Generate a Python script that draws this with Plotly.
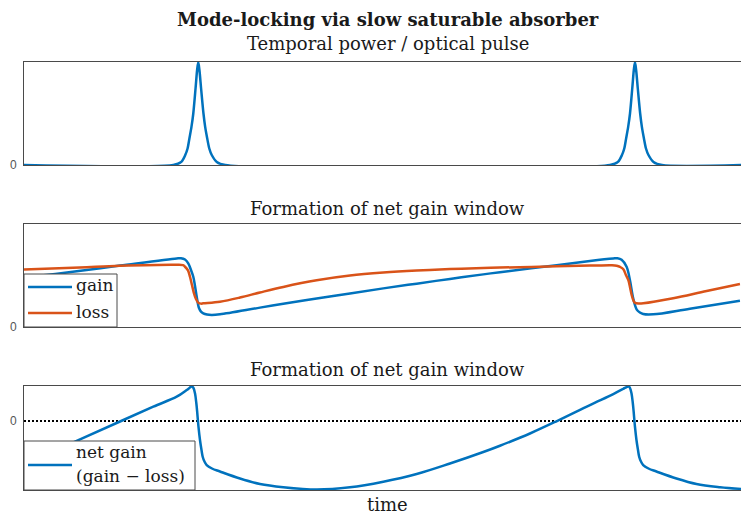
import plotly.graph_objects as go

# Time axis in units of the cavity round-trip time T_R
T_END = 1.642

# Temporal power of the circulating pulse (normalised to peak)
t_pulse = [0.0, 0.3419, 0.3602, 0.3693, 0.3746, 0.3789, 0.3835, 0.3877, 0.3929, 0.3964,
           0.3991, 0.4018, 0.4055, 0.4110, 0.4149, 0.4195, 0.4243, 0.4300, 0.4415, 0.4609,
           1.3420, 1.3603, 1.3694, 1.3747, 1.3790, 1.3836, 1.3878, 1.3930, 1.3965,
           1.3992, 1.4019, 1.4056, 1.4111, 1.4150, 1.4196, 1.4244, 1.4301, 1.4416, 1.4610,
           1.642]
power = [0.0, 0.0, 0.03, 0.097, 0.16, 0.26, 0.37, 0.50, 0.745, 0.92,
         1.0, 0.92, 0.745, 0.50, 0.37, 0.26, 0.16, 0.097, 0.03, 0.0,
         0.0, 0.03, 0.097, 0.16, 0.26, 0.37, 0.50, 0.745, 0.92,
         1.0, 0.92, 0.745, 0.50, 0.37, 0.26, 0.16, 0.097, 0.03, 0.0,
         0.0]

# Saturated gain
t_gain = [0.0, 0.0893, 0.2198, 0.3497, 0.3595, 0.3687, 0.3762, 0.3824, 0.3877,
          0.3916, 0.3955, 0.4007, 0.4053, 0.4106, 0.4191, 0.4298, 0.4488, 0.5404,
          0.5938, 0.6702, 0.7465, 0.8228, 0.8992, 0.9755, 1.0518, 1.0900, 1.2198,
          1.2961, 1.3495, 1.3590, 1.3686, 1.3800, 1.3876, 1.3951, 1.4029, 1.4105,
          1.4181, 1.4410, 1.5250, 1.6396]
gain = [0.482, 0.524, 0.596, 0.665, 0.667, 0.655, 0.618, 0.553, 0.488,
        0.398, 0.294, 0.184, 0.150, 0.133, 0.121, 0.117, 0.123, 0.188,
        0.225, 0.277, 0.326, 0.375, 0.421, 0.467, 0.511, 0.532, 0.600,
        0.641, 0.665, 0.667, 0.652, 0.585, 0.456, 0.279, 0.172, 0.141,
        0.126, 0.123, 0.178, 0.255]

# Saturable absorber loss
t_loss = [0.0, 0.1280, 0.2198, 0.3497, 0.3641, 0.3687, 0.3755, 0.3801, 0.3847,
          0.3893, 0.3938, 0.3991, 0.4053, 0.4106, 0.4488, 0.4946, 0.5404, 0.5938,
          0.6702, 0.7465, 0.8228, 0.8992, 0.9755, 1.0518, 1.0900, 1.2198, 1.2961,
          1.3466, 1.3573, 1.3650, 1.3726, 1.3784, 1.3840, 1.3877, 1.3916, 1.3957,
          1.3990, 1.4080, 1.4181, 1.4868, 1.5633, 1.6396]
loss = [0.558, 0.578, 0.594, 0.604, 0.600, 0.585, 0.549, 0.488, 0.408,
        0.327, 0.272, 0.236, 0.227, 0.230, 0.246, 0.286, 0.335, 0.389,
        0.453, 0.499, 0.528, 0.548, 0.562, 0.573, 0.577, 0.589, 0.596,
        0.600, 0.595, 0.583, 0.560, 0.505, 0.456, 0.388, 0.311, 0.257,
        0.236, 0.228, 0.230, 0.279, 0.350, 0.417]

# Net gain (gain - loss)
t_net = [0.0, 0.1168, 0.2198, 0.2961, 0.3497, 0.3726, 0.3801, 0.3840, 0.3881,
         0.3916, 0.3946, 0.3969, 0.3996, 0.4030, 0.4065, 0.4092, 0.4133, 0.4184,
         0.4305, 0.4488, 0.4946, 0.5404, 0.5938, 0.6702, 0.7465, 0.8228, 0.8992,
         0.9755, 1.0518, 1.0900, 1.1587, 1.2206, 1.2961, 1.3495, 1.3717, 1.3809,
         1.3843, 1.3878, 1.3912, 1.3942, 1.3965, 1.3992, 1.4026, 1.4061, 1.4088,
         1.4129, 1.4180, 1.4301, 1.4484, 1.4942, 1.5400, 1.5940, 1.6420]
net = [-1.229, -0.591, -0.014, 0.409, 0.694, 0.886, 0.957, 0.991, 0.943,
       0.791, 0.514, 0.220, -0.171, -0.543, -0.829, -1.020, -1.157, -1.257,
       -1.357, -1.443, -1.643, -1.800, -1.891, -1.957, -1.894, -1.734, -1.514,
       -1.214, -0.886, -0.706, -0.357, 0.0, 0.457, 0.771, 0.914, 0.977,
       0.991, 0.943, 0.791, 0.514, 0.220, -0.171, -0.543, -0.829, -1.020,
       -1.157, -1.257, -1.357, -1.443, -1.643, -1.800, -1.891, -1.940]

BLUE = "#0072BD"
ORANGE = "#D95319"
AXIS = "#4a4a4a"
TEXT = "#1a1a1a"
SERIF = "DejaVu Serif"
W, H = 741, 515


def px_x(p):
    return p / W


def px_y(p):
    return (H - p) / H


fig = go.Figure()
line_kw = dict(width=2.5, shape="spline", smoothing=1.0)

fig.add_trace(go.Scatter(x=t_pulse, y=power, mode="lines", name="power",
                         line=dict(color=BLUE, width=2.5, shape="spline", smoothing=0.8),
                         xaxis="x", yaxis="y"))
fig.add_trace(go.Scatter(x=t_gain, y=gain, mode="lines", name="gain",
                         line=dict(color=BLUE, **line_kw), xaxis="x2", yaxis="y2"))
fig.add_trace(go.Scatter(x=t_loss, y=loss, mode="lines", name="loss",
                         line=dict(color=ORANGE, **line_kw), xaxis="x2", yaxis="y2"))
fig.add_trace(go.Scatter(x=[0, T_END], y=[0, 0], mode="lines", name="zero",
                         line=dict(color="black", width=2, dash="2px,2px"),
                         xaxis="x3", yaxis="y3"))
fig.add_trace(go.Scatter(x=t_net, y=net, mode="lines", name="net gain (gain \u2212 loss)",
                         line=dict(color=BLUE, **line_kw), xaxis="x3", yaxis="y3"))
fig.update_traces(showlegend=False, hoverinfo="skip")

xdom = [px_x(24), 1.0]
panels = {
    "": ([px_y(165), px_y(62)], [0, 1.0]),
    "2": ([px_y(327), px_y(224)], [0, 1.0]),
    "3": ([px_y(490), px_y(386)], [-1.971, 1.0]),
}
for k, (ydom, yrng) in panels.items():
    fig.update_layout(**{
        f"xaxis{k}": dict(domain=xdom, range=[0, T_END], anchor=f"y{k}",
                          showline=True, mirror=True, linecolor=AXIS, linewidth=1,
                          showgrid=False, zeroline=False, showticklabels=False,
                          ticks="", fixedrange=True),
        f"yaxis{k}": dict(domain=ydom, range=yrng, anchor=f"x{k}",
                          showline=True, linecolor=AXIS, linewidth=1,
                          showgrid=False, zeroline=False,
                          tickmode="array", tickvals=[0], ticktext=["0"], ticks="",
                          ticklabelstandoff=4,
                          tickfont=dict(family="Liberation Sans", size=12, color="#555555"),
                          automargin=False, fixedrange=True),
    })

# Boxed legends drawn in the lower-left corner of the gain/loss and net-gain panels
LEG_FONT = dict(family=SERIF, size=17, color=TEXT)


def add_legend_box(x0, y0, x1, y1, entries, labels):
    fig.add_shape(type="rect", xref="paper", yref="paper",
                  x0=px_x(x0), x1=px_x(x1), y0=px_y(y1), y1=px_y(y0),
                  fillcolor="white", line=dict(color=AXIS, width=1), layer="above")
    for color, ly in entries:
        fig.add_shape(type="line", xref="paper", yref="paper",
                      x0=px_x(28), x1=px_x(72), y0=px_y(ly), y1=px_y(ly),
                      line=dict(color=color, width=2.5), layer="above")
    for text, ty in labels:
        fig.add_annotation(text=text, x=px_x(74), y=px_y(ty), xref="paper", yref="paper",
                           xanchor="left", yanchor="middle", showarrow=False, font=LEG_FONT)


add_legend_box(24, 274, 117, 327, [(BLUE, 287), (ORANGE, 313)],
               [("gain", 285), ("loss", 312)])
add_legend_box(24, 441, 195, 490, [(BLUE, 465)],
               [("net gain", 452), ("(gain \u2212 loss)", 476)])

cx = px_x(388)
titles = [
    ("<b>Mode-locking via slow saturable absorber</b>", 19),
    ("Temporal power / optical pulse", 44),
    ("Formation of net gain window", 208),
    ("Formation of net gain window", 369),
    ("time", 504),
]
for text, y in titles:
    fig.add_annotation(text=text, x=cx, y=px_y(y), xref="paper", yref="paper",
                       xanchor="center", yanchor="middle", showarrow=False,
                       font=dict(family=SERIF, size=18, color=TEXT))

fig.update_layout(width=W, height=H, margin=dict(l=0, r=0, t=0, b=0),
                  paper_bgcolor="white", plot_bgcolor="white")

fig.write_html("out.html")
